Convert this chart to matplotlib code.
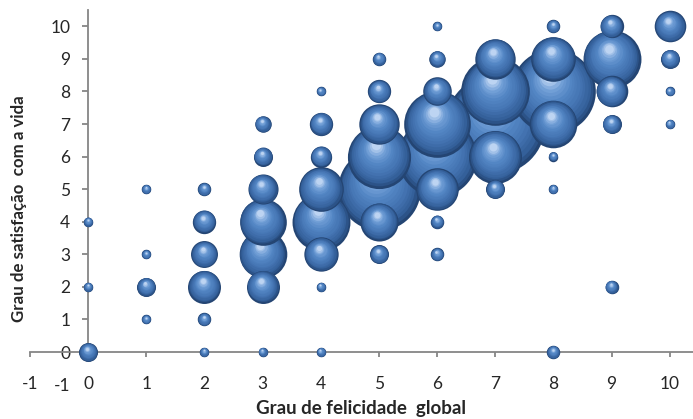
import numpy as np
import matplotlib
matplotlib.use("Agg")
import matplotlib.pyplot as plt
from matplotlib.transforms import offset_copy
from matplotlib.colors import LinearSegmentedColormap

plt.rcParams["font.family"] = ["Lato", "DejaVu Sans"]

# ---- data: (felicidade, satisfação, frequência) ----
felicidade = [0, 0, 0,
              1, 1, 1, 1,
              2, 2, 2, 2, 2, 2,
              3, 3, 3, 3, 3, 3, 3,
              4, 4, 4, 4, 4, 4, 4, 4,
              5, 5, 5, 5, 5, 5, 5,
              6, 6, 6, 6, 6, 6, 6, 6,
              7, 7, 7, 7, 7,
              8, 8, 8, 8, 8, 8, 8,
              9, 9, 9, 9, 9,
              10, 10, 10, 10]
satisfacao = [0, 2, 4,
              1, 2, 3, 5,
              0, 1, 2, 3, 4, 5,
              0, 2, 3, 4, 5, 6, 7,
              0, 2, 3, 4, 5, 6, 7, 8,
              3, 4, 5, 6, 7, 8, 9,
              3, 4, 5, 6, 7, 8, 9, 10,
              5, 6, 7, 8, 9,
              0, 5, 6, 7, 8, 9, 10,
              2, 7, 8, 9, 10,
              7, 8, 9, 10]
frequencia = [4, 1, 1,
              1, 4, 1, 1,
              1, 2, 12, 8, 6, 2,
              1, 12, 25, 24, 10, 4, 3,
              1, 1, 13, 37, 22, 5, 6, 1,
              4, 16, 75, 44, 18, 6, 2,
              2, 2, 20, 69, 49, 9, 3, 1,
              4, 31, 109, 52, 18,
              2, 1, 1, 25, 79, 22, 2,
              2, 4, 11, 37, 6,
              1, 1, 4, 11]

x_ticks = list(range(-1, 11))
y_ticks = list(range(0, 11))

W, H = 693, 419
fig = plt.figure(figsize=(W / 100, H / 100), dpi=100)
ax = fig.add_axes([30 / W, 1 - 384.6 / H, (W - 30) / W, (384.6 - 10) / H])
ax.set_xlim(-1, 10.4)
ax.set_ylim(-1, 10.5)

# spines through the origin
axis_col = "#868686"
for s in ("top", "right"):
    ax.spines[s].set_visible(False)
ax.spines["left"].set_position(("data", 0))
ax.spines["bottom"].set_position(("data", 0))
ax.spines["left"].set_bounds(0, 10.5)
ax.spines["bottom"].set_bounds(-1, 10.4)
for s in ("left", "bottom"):
    ax.spines[s].set_color(axis_col)
    ax.spines[s].set_linewidth(1.3)
    ax.spines[s].set_zorder(2)

ax.set_xticks(x_ticks)
ax.set_xticklabels([str(v) for v in x_ticks])
ax.set_yticks(y_ticks)
ax.set_yticklabels([str(v) for v in y_ticks])
ax.set_yticks([-1], minor=True)
ax.set_yticklabels(["-1"], minor=True)

lab_col = "#262626"
ax.tick_params(axis="x", which="major", direction="out", length=3.6, width=1.3,
               color=axis_col, pad=13.5, labelsize=12.5, labelcolor=lab_col)
ax.tick_params(axis="y", which="major", direction="out", length=4.3, width=1.3,
               color=axis_col, pad=8.6, labelsize=12.5, labelcolor=lab_col)
ax.tick_params(axis="y", which="minor", length=0, pad=12.9,
               labelsize=12.5, labelcolor=lab_col)

ax.set_xlabel("Grau de felicidade  global", fontsize=13.5, fontweight="bold",
              color=lab_col)
ax.xaxis.set_label_coords(0.5, -0.063)
ax.xaxis.label.set_verticalalignment("center")
ax.set_ylabel("Grau de satisfação  com a vida", fontsize=12.2,
              fontweight="bold", color=lab_col)
ax.yaxis.set_label_coords(-0.005, 0.47)
ax.yaxis.label.set_horizontalalignment("center")

# ---- 3D-looking bubbles ----
cmap = LinearSegmentedColormap.from_list(
    "sph",
    [(0.0, "#244573"), (0.12, "#335f98"), (0.35, "#4474b2"),
     (0.6, "#5386c4"), (0.82, "#74a1d8"), (1.0, "#bdd4f2")])

K = 47.0  # points^2 per unit of frequency
order = np.argsort(-np.asarray(frequencia), kind="stable")
N = 16
hx, hy = -0.12, 0.42
for idx in order:
    xv, yv, c = felicidade[idx], satisfacao[idx], frequencia[idx]
    s = c * K
    r_pt = np.sqrt(s) / 2
    for i in range(N):
        t = i / (N - 1)
        f = 1 - 0.85 * t
        dx = hx * r_pt * (1 - f)
        dy = hy * r_pt * (1 - f)
        tr = offset_copy(ax.transData, fig=fig, x=dx, y=dy, units="points")
        ax.scatter([xv], [yv], s=s * f * f, color=cmap(t), linewidths=0,
                   transform=tr, zorder=3, clip_on=False)

fig.savefig("out.png", dpi=100)
